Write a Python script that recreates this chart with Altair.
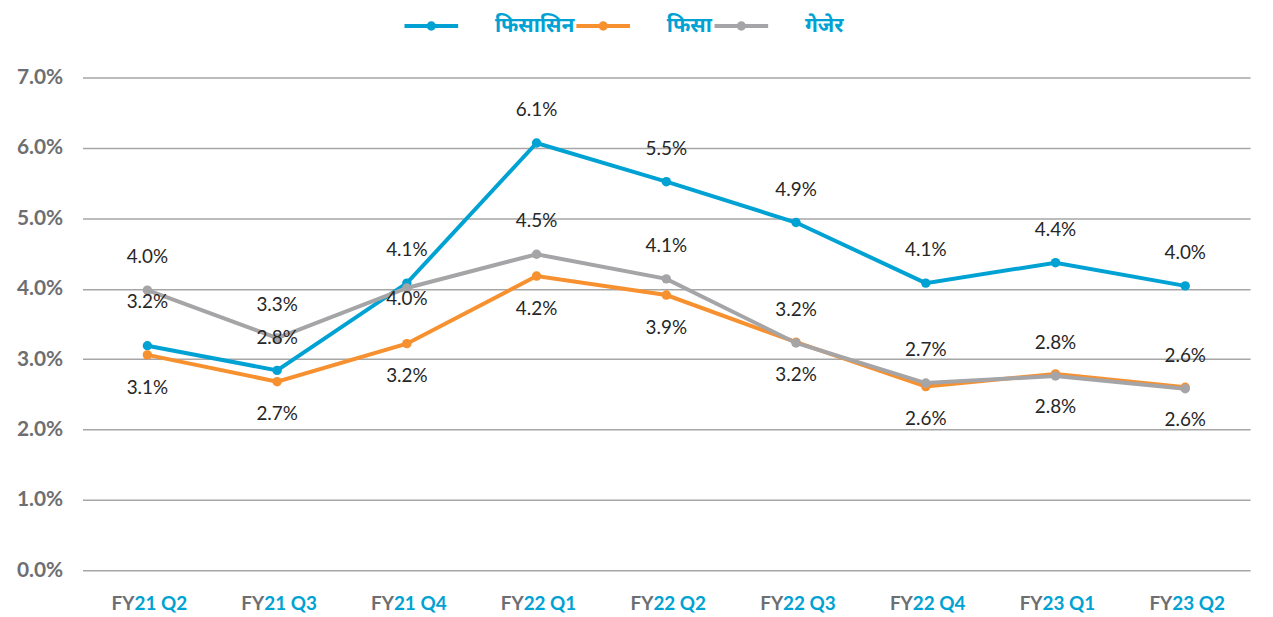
import altair as alt
import pandas as pd

quarters = ["FY21 Q2", "FY21 Q3", "FY21 Q4", "FY22 Q1", "FY22 Q2",
            "FY22 Q3", "FY22 Q4", "FY23 Q1", "FY23 Q2"]
series_names = ["फिसासिन", "फिसा", "गेजेर"]
blue_vals = [3.19, 2.84, 4.08, 6.07, 5.52, 4.94, 4.08, 4.37, 4.04]
orange_vals = [3.06, 2.68, 3.22, 4.18, 3.91, 3.24, 2.61, 2.79, 2.60]
gray_vals = [3.98, 3.30, 4.01, 4.49, 4.14, 3.23, 2.66, 2.76, 2.58]
colors = ["#00A2D3", "#F7902F", "#A5A5A8"]
y_ticks = [0, 0.01, 0.02, 0.03, 0.04, 0.05, 0.06, 0.07]

rows = []
for name, vals in zip(series_names, [blue_vals, orange_vals, gray_vals]):
    for i, (q, v) in enumerate(zip(quarters, vals)):
        rows.append({"q": q, "series": name, "value": v / 100, "order": i})
df = pd.DataFrame(rows)

xlab = pd.DataFrame({"q": quarters,
                     "pre": [q[:2] for q in quarters],
                     "rest": [q[2:] for q in quarters]})

W, H = 1175, 496
FONT = "Lato"
BLUE_TXT = "#00A2D3"
GRAY_TXT = "#6D6E71"

x_enc = alt.X("q:N", sort=quarters, axis=None, scale=alt.Scale(paddingInner=0, paddingOuter=0))
y_enc = alt.Y("value:Q", scale=alt.Scale(domain=[0, 0.07]),
              axis=alt.Axis(values=y_ticks, format=".1%", title=None, domain=False, ticks=False,
                            labelFont=FONT, labelFontSize=21, labelFontWeight="bold",
                            labelColor=GRAY_TXT, labelPadding=20,
                            gridColor="#A6A6A6", gridWidth=1.5))

# wide legend symbol: a line with a dot in its middle
sym = "M-3,0L3,0M0.3,0A0.3,0.3 0 1,1 -0.3,0A0.3,0.3 0 1,1 0.3,0"
color_enc = alt.Color("series:N", sort=series_names,
                      scale=alt.Scale(domain=series_names, range=colors),
                      legend=alt.Legend(orient="none", legendX=340, legendY=-63,
                                        direction="horizontal", title=None,
                                        symbolType=sym, symbolSize=324, symbolStrokeWidth=4,
                                        labelFont="Noto Sans, Lato, sans-serif", labelFontSize=21,
                                        labelFontWeight="bold", labelColor=BLUE_TXT,
                                        labelOffset=53, columnPadding=-6))

base = alt.Chart(df)
lines = base.mark_line(strokeWidth=4).encode(x=x_enc, y=y_enc, color=color_enc, order="order:Q")
points = base.mark_point(filled=True, size=90, opacity=1).encode(
    x=x_enc, y=y_enc, color=alt.Color("series:N", scale=alt.Scale(domain=series_names, range=colors), legend=None))

lab_common = dict(font=FONT, fontSize=19, color="#262626", baseline="middle", align="center")
txt = alt.Text("value:Q", format=".1%")

is_blue = alt.datum.series == series_names[0]
is_orange = alt.datum.series == series_names[1]
is_gray = alt.datum.series == series_names[2]
blue_first = is_blue & (alt.datum.q == quarters[0])
gray_q4 = is_gray & (alt.datum.q == quarters[2])

labels_up = base.mark_text(dy=-33, **lab_common).encode(x=x_enc, y=y_enc, text=txt).transform_filter(
    (is_blue | is_gray) & ~blue_first & ~gray_q4)
labels_blue_first = base.mark_text(dy=-44, **lab_common).encode(x=x_enc, y=y_enc, text=txt).transform_filter(blue_first)
labels_gray_q4 = base.mark_text(dy=11, **lab_common).encode(x=x_enc, y=y_enc, text=txt).transform_filter(gray_q4)
labels_down = base.mark_text(dy=33, **lab_common).encode(x=x_enc, y=y_enc, text=txt).transform_filter(is_orange)

xl = alt.Chart(xlab)
xpre = xl.mark_text(font=FONT, fontSize=19, fontWeight="bold", color=GRAY_TXT,
                    align="right", baseline="middle", dx=-13).encode(
    x=x_enc, y=alt.value(H + 34), text="pre:N")
xrest = xl.mark_text(font=FONT, fontSize=19, fontWeight="bold", color=BLUE_TXT,
                     align="left", baseline="middle", dx=-13).encode(
    x=x_enc, y=alt.value(H + 34), text="rest:N")

chart = alt.layer(lines, points, labels_up, labels_blue_first, labels_gray_q4, labels_down, xpre, xrest).properties(
    width=W, height=H,
    autosize=alt.AutoSizeParams(type="none"),
    padding={"left": 75, "top": 68, "right": 15, "bottom": 45},
).configure_view(stroke=None).resolve_scale(color="shared")

chart.save("out.html", embed_options={"renderer": "svg", "actions": False})
